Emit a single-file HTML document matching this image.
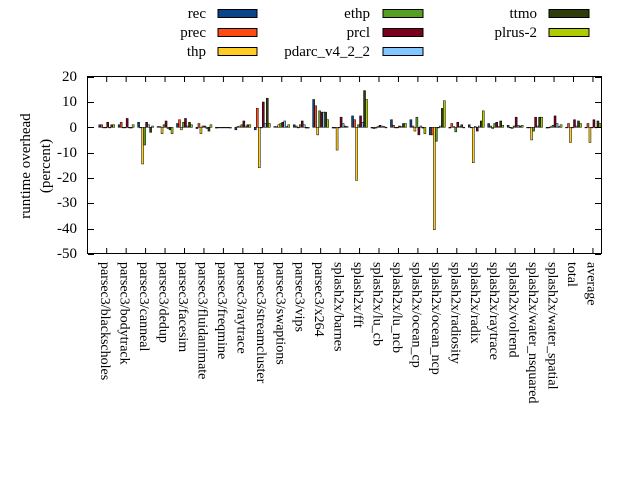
<!DOCTYPE html>
<html><head><meta charset="utf-8"><style>
html,body{margin:0;padding:0;background:#fff;width:640px;height:480px;overflow:hidden}
svg text{font-family:"Liberation Serif",serif;font-size:15px;fill:#000}
#labels text{font-size:14px}
</style></head><body>
<svg id="s" width="640" height="480" xmlns="http://www.w3.org/2000/svg">
<rect x="0" y="0" width="640" height="480" fill="#fff"/>
<g text-anchor="end">
<text x="206" y="18">rec</text><text x="206" y="37">prec</text><text x="206" y="56">thp</text>
<text x="370" y="18">ethp</text><text x="370" y="37">prcl</text><text x="370" y="56">pdarc_v4_2_2</text>
<text x="537" y="18">ttmo</text><text x="537" y="37">plrus-2</text>
</g>
<g stroke="#000" stroke-width="1">
<rect x="218" y="9.5" width="39" height="8" fill="#08458a"/>
<rect x="218" y="28.5" width="39" height="8" fill="#ff4a12"/>
<rect x="218" y="47.5" width="39" height="8" fill="#ffcc22"/>
<rect x="383" y="9.5" width="40" height="8" fill="#55a020"/>
<rect x="383" y="28.5" width="40" height="8" fill="#7a0020"/>
<rect x="383" y="47.5" width="40" height="8" fill="#80c8ff"/>
<rect x="549" y="9.5" width="40" height="8" fill="#2f3d0a"/>
<rect x="549" y="28.5" width="40" height="8" fill="#b0cc00"/>
</g>
<g text-anchor="end">
<text x="77" y="81">20</text><text x="77" y="106">10</text><text x="77" y="132">0</text>
<text x="77" y="157">-10</text><text x="77" y="182">-20</text><text x="77" y="207">-30</text>
<text x="77" y="233">-40</text><text x="77" y="258">-50</text>
</g>
<text transform="translate(30,166) rotate(-90)" text-anchor="middle">runtime overhead</text>
<text transform="translate(50,166) rotate(-90)" text-anchor="middle">(percent)</text>
<g id="bars"></g>
<g id="ticks" stroke="#000" stroke-width="1"></g>
<rect x="87.5" y="76.5" width="514" height="177" fill="none" stroke="#000" stroke-width="1"/>
<g id="labels">
<text transform="translate(101.2,262) rotate(90)">parsec3/blackscholes</text>
<text transform="translate(120.7,262) rotate(90)">parsec3/bodytrack</text>
<text transform="translate(140.1,262) rotate(90)">parsec3/canneal</text>
<text transform="translate(159.6,262) rotate(90)">parsec3/dedup</text>
<text transform="translate(179.0,262) rotate(90)">parsec3/facesim</text>
<text transform="translate(198.5,262) rotate(90)">parsec3/fluidanimate</text>
<text transform="translate(217.9,262) rotate(90)">parsec3/freqmine</text>
<text transform="translate(237.4,262) rotate(90)">parsec3/raytrace</text>
<text transform="translate(256.8,262) rotate(90)">parsec3/streamcluster</text>
<text transform="translate(276.3,262) rotate(90)">parsec3/swaptions</text>
<text transform="translate(295.7,262) rotate(90)">parsec3/vips</text>
<text transform="translate(315.2,262) rotate(90)">parsec3/x264</text>
<text transform="translate(334.6,262) rotate(90)">splash2x/barnes</text>
<text transform="translate(354.1,262) rotate(90)">splash2x/fft</text>
<text transform="translate(373.5,262) rotate(90)">splash2x/lu_cb</text>
<text transform="translate(393.0,262) rotate(90)">splash2x/lu_ncb</text>
<text transform="translate(412.4,262) rotate(90)">splash2x/ocean_cp</text>
<text transform="translate(431.9,262) rotate(90)">splash2x/ocean_ncp</text>
<text transform="translate(451.3,262) rotate(90)">splash2x/radiosity</text>
<text transform="translate(470.8,262) rotate(90)">splash2x/radix</text>
<text transform="translate(490.2,262) rotate(90)">splash2x/raytrace</text>
<text transform="translate(509.7,262) rotate(90)">splash2x/volrend</text>
<text transform="translate(529.1,262) rotate(90)">splash2x/water_nsquared</text>
<text transform="translate(548.6,262) rotate(90)">splash2x/water_spatial</text>
<text transform="translate(568.0,262) rotate(90)">total</text>
<text transform="translate(587.5,262) rotate(90)">average</text>
</g>
</svg>
<script>
var cols=["#08458a","#ff4a12","#ffcc22","#55a020","#7a0020","#80c8ff","#2f3d0a","#b0cc00"];
var d=[
[1,1,0,0,2,0,1,1],
[1,2,0,0,3.5,0,-0.3,1],
[2,0,-14.5,-7,2,1,-2,0.5],
[0.3,0.3,-2.5,1,2.5,-0.5,-1,-2.5],
[1.5,3,-1,2,3.5,0.5,2,1],
[-0.5,1.5,-2.5,0.5,0.5,-0.5,-1.5,1],
[-0.3,0,0,0,0,0,0,-0.3],
[-1,0.3,0.5,1,2.5,0.5,1,1],
[-1,7.5,-16,0,10,1.5,11.5,1.5],
[0.3,0.3,1,1.5,2,2.5,0.3,1],
[1,0.5,0,1,2.5,1,-0.3,-0.3],
[11,8.5,-3,6.5,6,6,6,3],
[-0.3,-0.3,-9,0,4,1.5,0.5,0.3],
[4.5,3,-21,1,4.5,2,14.5,11],
[-0.3,-0.5,-0.3,0.3,0.8,0.5,0.3,0],
[3,0.8,0,0,0.5,0.3,1.5,1.5],
[3,0.5,-1.5,4,-3,0.5,-0.3,-2.5],
[-3,-3,-40.5,-5.5,0,0.5,7.5,10.5],
[-0.3,1.5,0.3,-1.8,2,0.3,1,0],
[1,0,-14,0.3,-1.5,0.5,2.5,6.5],
[1.5,0.5,-0.5,1.5,2,0.3,2.5,0.8],
[0.8,0,-0.5,0.5,4,0.8,0.5,0.8],
[0,0,-5,-1.5,4,0.5,4,4],
[-0.3,0,0.3,0.8,4.5,1.5,0.3,1],
[0,1.5,-6,0,3,0.5,2.5,1.5],
[0,1.5,-6,0,3,0,2.5,1.5]];
var ns="http://www.w3.org/2000/svg",b=document.getElementById("bars"),t=document.getElementById("ticks");
function Y(v){return 127.3-v*2.53;}
for(var i=0;i<26;i++){var cx=106.7+i*19.45;
 for(var k=0;k<8;k++){var v=d[i][k];var r=document.createElementNS(ns,"rect");
  var y0=Y(Math.max(v,0)),h=Math.max(Math.abs(v)*2.53,0.6);
  r.setAttribute("x",cx-8+k*2);r.setAttribute("y",y0);r.setAttribute("width",2);r.setAttribute("height",h);
  r.setAttribute("fill",cols[k]);r.setAttribute("stroke","#000");r.setAttribute("stroke-width","0.5");b.appendChild(r);}
 var l=document.createElementNS(ns,"path");l.setAttribute("d","M"+cx+" 77v5M"+cx+" 253v-5");t.appendChild(l);}
for(var v=-50;v<=20;v+=10){var y=Math.round(Y(v))+0.5;var l=document.createElementNS(ns,"path");
 l.setAttribute("d","M88 "+y+"h6M601 "+y+"h-6");t.appendChild(l);}
</script>
</body></html>
